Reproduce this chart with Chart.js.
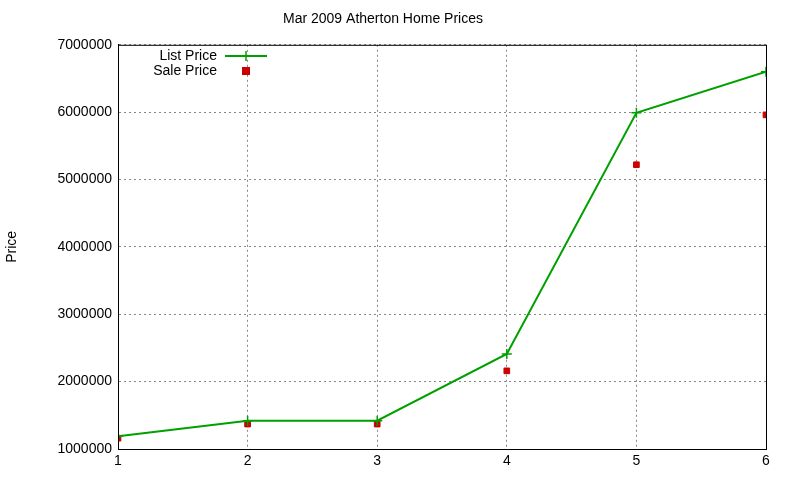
<!DOCTYPE html>
<html>
<head>
<meta charset="UTF-8">
<script src="https://cdn.jsdelivr.net/npm/chart.js"></script>
<style>
  body { margin: 0; background: #fff; }
  #wrap { width: 800px; height: 480px; }
</style>
</head>
<body>
<div id="wrap"><canvas id="c" width="800" height="480"></canvas></div>
<script>
const xs = [1, 2, 3, 4, 5, 6];
const listPrice = [1190000, 1420000, 1420000, 2410000, 5990000, 6600000];
const salePrice = [1160000, 1370000, 1370000, 2160000, 5220000, 5960000];

const font = { family: 'Liberation Sans, Arial, sans-serif', size: 14, weight: 'normal' };

// legend + full frame drawn by hand, gnuplot style
const innerLegend = {
  id: 'innerLegend',
  afterDraw(chart) {
    const ctx = chart.ctx;
    const a = chart.chartArea;
    ctx.save();
    ctx.setLineDash([]);
    ctx.strokeStyle = '#000';
    ctx.lineWidth = 1;
    ctx.strokeRect(a.left + 0.5, a.top + 0.5, a.right - a.left, a.bottom - a.top);
    ctx.font = '14px Liberation Sans, Arial, sans-serif';
    ctx.fillStyle = '#000';
    ctx.textAlign = 'right';
    ctx.textBaseline = 'middle';
    ctx.fillText('List Price', 217, 56);
    ctx.fillText('Sale Price', 217, 71);
    ctx.strokeStyle = '#00a000';
    ctx.lineWidth = 2;
    ctx.beginPath(); ctx.moveTo(225, 56); ctx.lineTo(267, 56); ctx.stroke();
    ctx.lineWidth = 1.5;
    ctx.beginPath(); ctx.moveTo(246, 51); ctx.lineTo(246, 61); ctx.moveTo(241, 56); ctx.lineTo(251, 56); ctx.stroke();
    ctx.fillStyle = '#cc0000';
    ctx.fillRect(242, 67, 8, 8);
    ctx.restore();
  }
};

new Chart(document.getElementById('c'), {
  type: 'scatter',
  data: {
    datasets: [
      {
        label: 'List Price',
        data: xs.map((x, i) => ({ x, y: listPrice[i] })),
        showLine: true,
        borderColor: '#00a000',
        backgroundColor: '#00a000',
        borderWidth: 2,
        pointStyle: 'cross',
        pointRadius: 5,
        pointBorderWidth: 1.5
      },
      {
        label: 'Sale Price',
        data: xs.map((x, i) => ({ x, y: salePrice[i] })),
        borderColor: '#cc0000',
        backgroundColor: '#cc0000',
        pointStyle: 'rect',
        pointRadius: 4
      }
    ]
  },
  options: {
    responsive: false,
    animation: false,
    layout: { padding: { left: 0, right: 34, top: 0, bottom: 0 } },
    plugins: {
      legend: { display: false },
      tooltip: { enabled: false },
      title: {
        display: true,
        text: 'Mar 2009 Atherton Home Prices',
        color: '#000',
        font: font,
        padding: { top: 11, bottom: 17 }
      }
    },
    scales: {
      x: {
        type: 'linear',
        min: 1, max: 6,
        ticks: { stepSize: 1, color: '#000', font: font, padding: 4 },
        grid: { color: '#888', tickLength: 0 },
        border: { color: '#000', width: 1, dash: [2, 3] },
        afterFit(s) { s.height = 31; }
      },
      y: {
        min: 1000000, max: 7000000,
        ticks: { stepSize: 1000000, color: '#000', font: font, padding: 6, callback: v => String(v) },
        grid: { color: '#888', tickLength: 0 },
        border: { color: '#000', width: 1, dash: [2, 3] },
        title: { display: true, text: 'Price', color: '#000', font: font },
        afterFit(s) { s.width = 118; }
      }
    }
  },
  plugins: [innerLegend]
});
</script>
</body>
</html>
